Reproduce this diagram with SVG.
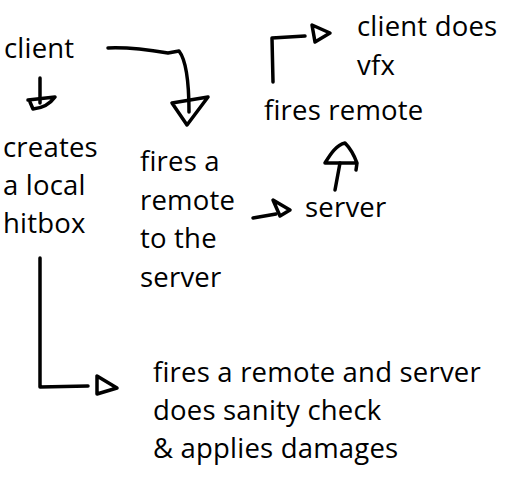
<svg xmlns="http://www.w3.org/2000/svg" width="506" height="479" viewBox="0 0 506 479">
<style>
text{font-family:"Open Sans","Noto Sans",sans-serif;font-size:27.5px;letter-spacing:0.2px;fill:#000}
.c{fill:none;stroke:#000;stroke-width:3.5;stroke-linecap:round;stroke-linejoin:round}
</style>
<rect width="506" height="479" fill="#fff"/>
<g id="client"><text x="4" y="58">client</text></g>
<g id="hitbox"><text x="3" y="157">creates</text><text x="3" y="195">a local</text><text x="3" y="233">hitbox</text></g>
<g id="fires-a-remote"><text x="140" y="171">fires a</text><text x="140" y="210">remote</text><text x="140" y="248">to the</text><text x="140" y="287">server</text></g>
<g id="server"><text x="305" y="217">server</text></g>
<g id="fires-remote"><text x="264" y="120">fires remote</text></g>
<g id="vfx"><text x="357" y="36">client does</text><text x="357" y="75">vfx</text></g>
<g id="sanity"><text x="153" y="382">fires a remote and server</text><text x="153" y="420">does sanity check</text><text x="153" y="458">&amp; applies damages</text></g>
<g id="connectors">
<path class="c" d="M108,48 C130,47 150,50 168,53 L179,51 C186,60 189,85 189,112"/>
<path class="c" d="M172,103 L208,97 L187,125 Z"/>
<path class="c" d="M40,78 L40,103"/>
<path class="c" d="M28,100 L55,97 C50,104 44,108 33,109 L30,102"/>
<path class="c" d="M40,258 L40,387 L88,386"/>
<path class="c" d="M97,376 L97,394 L117,388 Z"/>
<path class="c" d="M253,218 L276,214"/>
<path class="c" d="M273,200 L290,210 L280,216 Z"/>
<path class="c" d="M335,190 L340,163"/>
<path class="c" d="M356,170 L357,163 L325,163 C330,155 336,145 345,143 C350,148 354,155 357,163"/>
<path class="c" d="M273,82 L272,38 L305,36"/>
<path class="c" d="M312,25 L330,33 L315,42 Z"/>
</g>
</svg>
